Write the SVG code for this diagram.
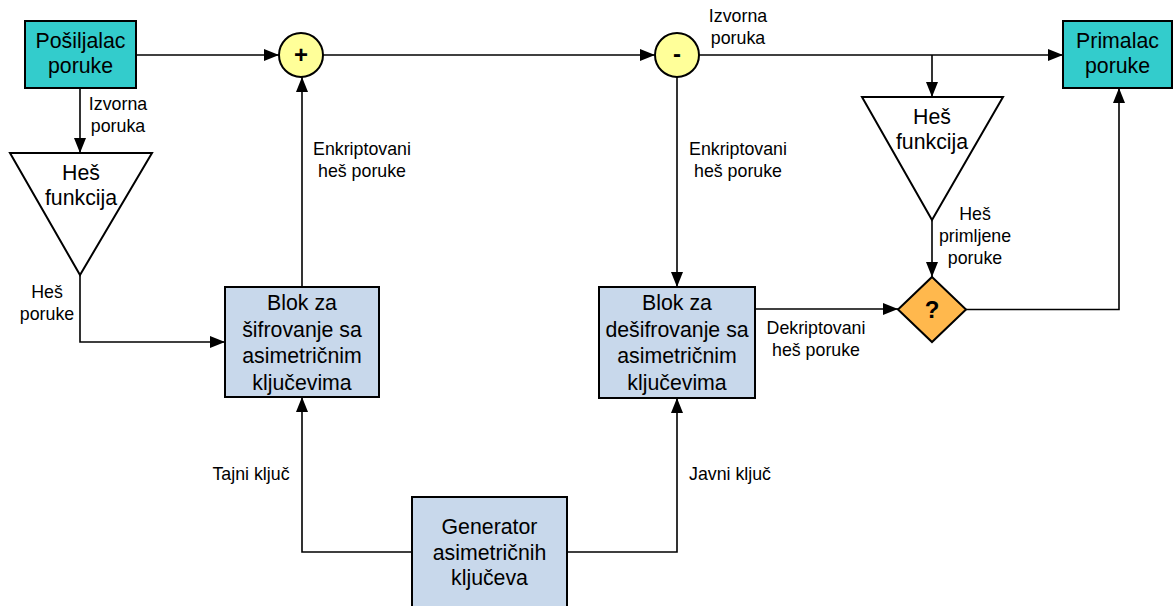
<svg xmlns="http://www.w3.org/2000/svg" width="1174" height="606" viewBox="0 0 1174 606">
  <style>
    .node { stroke: #000; stroke-width: 2; }
    .teal { fill: #33CCCC; }
    .blue { fill: #C8D8EB; }
    .sum { fill: #FFFF99; }
    .cmp { fill: #FFB84D; }
    .hash { fill: #FFFFFF; }
    .t { font-family: "Liberation Sans", Arial, sans-serif; font-size: 21.3px; fill: #000; text-anchor: middle; }
    .lbl { font-family: "Liberation Sans", Arial, sans-serif; font-size: 17.8px; fill: #000; text-anchor: middle; }
    .op { font-family: "Liberation Sans", Arial, sans-serif; font-size: 24px; font-weight: bold; fill: #000; text-anchor: middle; }
    .wire { fill: none; stroke: #000; stroke-width: 1.6; marker-end: url(#arrow); }
    .plain { fill: none; stroke: #000; stroke-width: 1.6; }
  </style>
  <defs>
    <marker id="arrow" markerUnits="userSpaceOnUse" markerWidth="16" markerHeight="12" refX="15" refY="6" orient="auto">
      <path d="M0,0 L15,6 L0,12 z" fill="#000"/>
    </marker>
  </defs>

  <rect width="1174" height="606" fill="#FFFFFF"/>

  <!-- connectors -->
  <g id="connectors">
    <path class="wire" d="M136,55 H279"/>
    <path class="wire" d="M323,55 H655"/>
    <path class="wire" d="M699,55 H1063"/>
    <path class="wire" d="M932,55 V97"/>
    <path class="wire" d="M80,88 V153"/>
    <path class="wire" d="M80,275 V342 H225"/>
    <path class="wire" d="M302,287 V77"/>
    <path class="wire" d="M677,77 V287"/>
    <path class="wire" d="M755,309 H898"/>
    <path class="wire" d="M932,220 V277"/>
    <path class="wire" d="M966,309.5 H1119 V88"/>
    <path class="wire" d="M412,552 H302 V397"/>
    <path class="wire" d="M567,552 H677 V398"/>

    <text class="lbl" x="118" y="110">Izvorna</text>
    <text class="lbl" x="118" y="132">poruka</text>
    <text class="lbl" x="738" y="22">Izvorna</text>
    <text class="lbl" x="738" y="44">poruka</text>
    <text class="lbl" x="362" y="155">Enkriptovani</text>
    <text class="lbl" x="362" y="177">heš poruke</text>
    <text class="lbl" x="738" y="155">Enkriptovani</text>
    <text class="lbl" x="738" y="177">heš poruke</text>
    <text class="lbl" x="47" y="298">Heš</text>
    <text class="lbl" x="47" y="320">poruke</text>
    <text class="lbl" x="975" y="220">Heš</text>
    <text class="lbl" x="975" y="242">primljene</text>
    <text class="lbl" x="975" y="264">poruke</text>
    <text class="lbl" x="816" y="334">Dekriptovani</text>
    <text class="lbl" x="816" y="356">heš poruke</text>
    <text class="lbl" x="251" y="480">Tajni ključ</text>
    <text class="lbl" x="730" y="480">Javni ključ</text>
  </g>

  <!-- nodes -->
  <g id="sender">
    <rect class="node teal" x="25" y="21" width="111" height="67"/>
    <text class="t" x="80.5" y="48">Pošiljalac</text>
    <text class="t" x="80.5" y="73">poruke</text>
  </g>

  <g id="receiver">
    <rect class="node teal" x="1063" y="21" width="109" height="67"/>
    <text class="t" x="1117.5" y="48">Primalac</text>
    <text class="t" x="1117.5" y="73">poruke</text>
  </g>

  <g id="hash-send">
    <polygon class="node hash" points="10,153 152,153 80,275"/>
    <text class="t" x="81" y="180">Heš</text>
    <text class="t" x="81" y="205">funkcija</text>
  </g>

  <g id="hash-recv">
    <polygon class="node hash" points="862,97 1003,97 932,220"/>
    <text class="t" x="932" y="124">Heš</text>
    <text class="t" x="932" y="149">funkcija</text>
  </g>

  <g id="sum">
    <circle class="node sum" cx="301" cy="55" r="22"/>
    <text class="op" x="301" y="63">+</text>
  </g>

  <g id="diff">
    <circle class="node sum" cx="677" cy="55" r="22"/>
    <text class="op" x="677" y="62">-</text>
  </g>

  <g id="encrypt">
    <rect class="node blue" x="225" y="287" width="154" height="110"/>
    <text class="t" x="302" y="310">Blok za</text>
    <text class="t" x="302" y="337">šifrovanje sa</text>
    <text class="t" x="302" y="363">asimetričnim</text>
    <text class="t" x="302" y="390">ključevima</text>
  </g>

  <g id="decrypt">
    <rect class="node blue" x="599" y="287" width="156" height="111"/>
    <text class="t" x="677" y="310">Blok za</text>
    <text class="t" x="677" y="337">dešifrovanje sa</text>
    <text class="t" x="677" y="363">asimetričnim</text>
    <text class="t" x="677" y="390">ključevima</text>
  </g>

  <g id="compare">
    <polygon class="node cmp" points="932,277 966,309.5 932,342 898,309.5"/>
    <text class="op" x="932" y="318">?</text>
  </g>

  <g id="keygen">
    <rect class="node blue" x="412" y="497" width="155" height="120"/>
    <text class="t" x="489.5" y="534">Generator</text>
    <text class="t" x="489.5" y="560">asimetričnih</text>
    <text class="t" x="489.5" y="585">ključeva</text>
  </g>
</svg>
